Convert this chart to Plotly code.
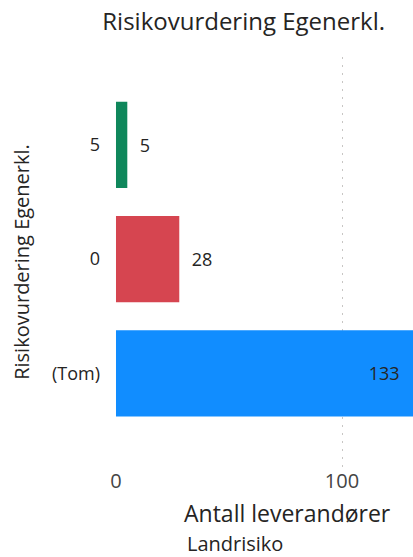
import plotly.graph_objects as go

# Data
categories = ["(Tom)", "0", "5"]
antall = [133, 28, 5]
bar_colors = ["#118DFF", "#D64550", "#0F875B"]

fig = go.Figure()

fig.add_trace(go.Bar(
    y=categories,
    x=antall,
    orientation="h",
    marker=dict(color=bar_colors, line=dict(width=0)),
    text=antall,
    texttemplate=["%{x}\u00a0\u00a0\u00a0", "\u00a0\u00a0%{x}", "\u00a0\u00a0%{x}"],
    textposition=["inside", "outside", "outside"],
    insidetextanchor="end",
    textfont=dict(family="Segoe UI, Open Sans", size=18, color="#252423"),
    cliponaxis=True,
    showlegend=False,
))

fig.update_layout(
    width=413,
    height=557,
    margin=dict(l=115, r=0, t=57, b=90),
    plot_bgcolor="white",
    paper_bgcolor="white",
    bargap=0.245,
    title=dict(
        text="Risikovurdering Egenerkl.",
        x=0.59, xanchor="center", y=0.962, yanchor="middle",
        font=dict(family="Open Sans", size=24, color="#252423"),
    ),
    xaxis=dict(
        range=[-0.44, 131.4],
        tickvals=[0, 100],
        showgrid=True, gridcolor="#C8C6C4", gridwidth=1, griddash="2px,6px",
        zeroline=False,
        showline=False,
        ticks="",
        ticklabelstandoff=0,
        tickfont=dict(family="Segoe UI, Open Sans", size=20, color="#444444"),
        fixedrange=True,
    ),
    yaxis=dict(
        range=[-0.82, 2.77],
        showgrid=False,
        ticks="",
        ticklabelstandoff=14,
        tickfont=dict(family="Segoe UI, Open Sans", size=18, color="#252423"),
        title=dict(
            text="Risikovurdering Egenerkl.",
            font=dict(family="Segoe UI, Open Sans", size=20, color="#252423"),
            standoff=16,
        ),
        fixedrange=True,
    ),
    annotations=[
        dict(text="Antall leverandører", xref="paper", yref="paper",
             x=0.58, y=-0.113, xanchor="center", yanchor="middle",
             showarrow=False, font=dict(family="Open Sans", size=23, color="#252423")),
        dict(text="Landrisiko", xref="paper", yref="paper",
             x=0.235, y=-0.186, xanchor="left", yanchor="middle",
             showarrow=False, font=dict(family="Open Sans", size=20, color="#252423")),
    ],
)

# drop the default page margin so the figure fills the window exactly
fig.write_html("out.html", config={"displayModeBar": False},
               post_script="document.body.style.margin = '0';")
